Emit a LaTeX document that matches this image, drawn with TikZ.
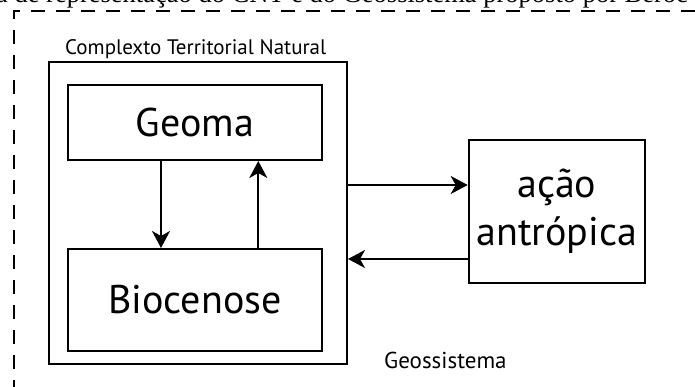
\documentclass[tikz,border=0pt]{standalone}
\usepackage{fontspec}
\setmainfont{PT Sans}
\newfontfamily\captionserif{Liberation Serif}
\usetikzlibrary{arrows.meta}
\begin{document}
\begin{tikzpicture}[x=1pt,y=-1pt,
  box/.style={draw=black, line width=2pt},
  flow/.style={line width=2pt, -{Stealth[length=17pt, width=18pt, inset=5pt]}},
  bigtext/.style={font=\fontsize{40}{48}\selectfont, align=center},
  smalltext/.style={font=\fontsize{21}{24}\selectfont}
]
\useasboundingbox (0,0) rectangle (695,387);
\clip (0,0) rectangle (695,387);
\fill[white] (0,0) rectangle (695,387);

% caption line running off the top edge
\node[anchor=base west, inner sep=0pt, font=\captionserif\fontsize{26.5}{30}\selectfont] (cap) at (-4,3)
  {a de representação do CNT e do Geossistema proposto por Beroc};

% dashed frame of the geosystem, open to the right and bottom
\coordinate (fr) at (720,11);
\coordinate (fc) at (14,11);
\coordinate (fb) at (14,400);
\draw[line width=2pt, dash pattern=on 14pt off 11pt] (fr) -- (fc) -- (fb);

% natural territorial complex
\node[box, minimum width=298pt, minimum height=301.5pt, anchor=north west, inner sep=0pt] (ctn) at (48,61.5) {};
\node[smalltext, anchor=base west, inner sep=0pt] (ctnlabel) at (65,55) {Complexto Territorial Natural};

\node[box, minimum width=253.7pt, minimum height=75pt, anchor=north west, inner sep=0pt] (geoma) at (67,84) {};
\node[bigtext] at (geoma.center) {Geoma};
\node[box, minimum width=253.7pt, minimum height=102pt, anchor=north west, inner sep=0pt] (bio) at (67,248) {};
\node[bigtext] at (bio.center) {Biocenose};

\node[box, minimum width=176.3pt, minimum height=143pt, anchor=north west, inner sep=0pt] (acao) at (467.7,139) {};
\node[bigtext] at (acao.center) {ação\\antrópica};

\node[smalltext, font=\fontsize{23}{26}\selectfont, anchor=west, inner sep=0pt] (geo) at (384,360) {Geossistema};

% exchanges
\draw[flow] (geoma.south -| 161,0) -- (bio.north -| 161,0);
\draw[flow] (bio.north -| 258.3,0) -- (geoma.south -| 258.3,0);
\draw[flow] (ctn.east |- 0,185) -- (acao.west |- 0,185);
\draw[flow] (acao.west |- 0,259) -- (ctn.east |- 0,259);
\end{tikzpicture}
\end{document}
